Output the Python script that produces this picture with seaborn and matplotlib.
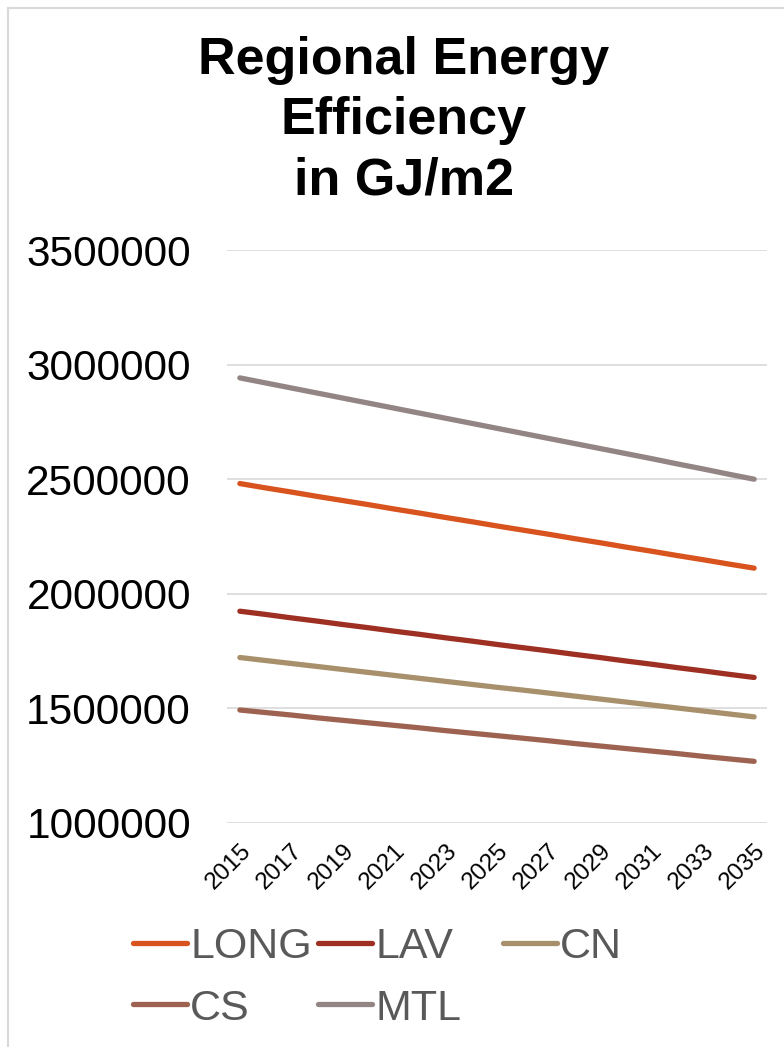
import matplotlib
matplotlib.use("Agg")
import matplotlib.pyplot as plt
from matplotlib.lines import Line2D
from matplotlib.ticker import FuncFormatter
import numpy as np
import pandas as pd
import seaborn as sns

# Annual values per region (GJ/m2), 2015-2035
years = list(range(2015, 2036))
long_vals = [2481000, 2462000, 2444000, 2425000, 2407000, 2389000, 2370000,
             2352000, 2333000, 2315000, 2296000, 2278000, 2260000, 2241000,
             2223000, 2204000, 2186000, 2167000, 2149000, 2130000, 2112000]
lav_vals = [1924000, 1910000, 1895000, 1881000, 1866000, 1852000, 1837000,
            1823000, 1808000, 1794000, 1779000, 1765000, 1751000, 1736000,
            1722000, 1707000, 1693000, 1678000, 1664000, 1649000, 1635000]
cn_vals = [1722000, 1709000, 1696000, 1683000, 1670000, 1657000, 1644000,
           1631000, 1618000, 1605000, 1592000, 1580000, 1567000, 1554000,
           1541000, 1528000, 1515000, 1502000, 1489000, 1476000, 1463000]
cs_vals = [1493000, 1482000, 1471000, 1459000, 1448000, 1437000, 1426000,
           1415000, 1403000, 1392000, 1381000, 1370000, 1359000, 1347000,
           1336000, 1325000, 1314000, 1303000, 1291000, 1280000, 1269000]
mtl_vals = [2942000, 2920000, 2898000, 2876000, 2854000, 2832000, 2810000,
            2788000, 2766000, 2744000, 2722000, 2700000, 2678000, 2656000,
            2634000, 2612000, 2590000, 2567000, 2545000, 2522000, 2500000]

regions = ["LONG", "LAV", "CN", "CS", "MTL"]
colors = ["#D9531E", "#9E3023", "#A8906C", "#9D6250", "#928584"]
x_tick_years = list(range(2015, 2036, 2))
y_ticks = [1000000, 1500000, 2000000, 2500000, 3000000, 3500000]
title = "Regional Energy\nEfficiency\nin GJ/m2"

series = [long_vals, lav_vals, cn_vals, cs_vals, mtl_vals]
df = pd.DataFrame({
    "Year": np.tile(years, len(regions)),
    "Value": np.concatenate(series),
    "Region": np.repeat(regions, len(years)),
})

sns.set_theme(style="white")
plt.rcParams["font.family"] = ["Liberation Sans", "DejaVu Sans"]

fig = plt.figure(figsize=(7.84, 10.47), dpi=100)
W, H = 784, 1047
ax = fig.add_axes([227 / W, (H - 823) / H, 540 / W, 573 / H])

sns.lineplot(data=df, x="Year", y="Value", hue="Region", hue_order=regions,
             palette=colors, linewidth=3.8, legend=False, ax=ax,
             solid_capstyle="round")

ax.set_xlim(2014.5, 2035.5)
ax.set_ylim(y_ticks[0], y_ticks[-1])
ax.set_yticks(y_ticks)
ax.set_xticks(x_tick_years)
ax.yaxis.set_major_formatter(FuncFormatter(lambda v, p: f"{int(v)}"))
ax.grid(axis="y", color="#D9D9D9", linewidth=1.2)
ax.grid(axis="x", visible=False)
ax.set_axisbelow(True)
for s in ax.spines.values():
    s.set_visible(False)
ax.set_xlabel("")
ax.set_ylabel("")
ax.tick_params(axis="y", length=0, pad=26, labelsize=30.5, labelcolor="black")
ax.tick_params(axis="x", length=0, pad=12, labelsize=17.5, labelcolor="black")
for lbl in ax.get_xticklabels():
    lbl.set_rotation(45)
    lbl.set_ha("right")
    lbl.set_va("top")
    lbl.set_rotation_mode("anchor")

fig.text(404 / W, 1 - 36 / H, title, ha="center", va="top",
         fontsize=37.5, fontweight="bold", color="black", linespacing=1.3)

# Legend laid out on a fixed column grid
handles = {r: Line2D([], [], color=c, linewidth=3.8, solid_capstyle="round")
           for r, c in zip(regions, colors)}
columns = [["LONG", "CS"], ["LAV", "MTL"], ["CN"]]
col_x = [133, 318, 503]
for names, cx in zip(columns, col_x):
    leg = fig.legend([handles[n] for n in names], names,
                     loc="upper left", bbox_to_anchor=(cx / W, 1 - 927 / H),
                     frameon=False, fontsize=31, handlelength=1.25,
                     handletextpad=0.08, labelspacing=0.5,
                     borderpad=0.0, borderaxespad=0.0)
    for t in leg.get_texts():
        t.set_color("#595959")

# Chart frame
fig.add_artist(Line2D([8 / W, 8 / W], [0, 1 - 8 / H], color="#D9D9D9",
                      linewidth=1.5, transform=fig.transFigure))
fig.add_artist(Line2D([8 / W, 1], [1 - 8 / H, 1 - 8 / H], color="#D9D9D9",
                      linewidth=1.5, transform=fig.transFigure))

fig.savefig("out.png", dpi=100, facecolor="white")
